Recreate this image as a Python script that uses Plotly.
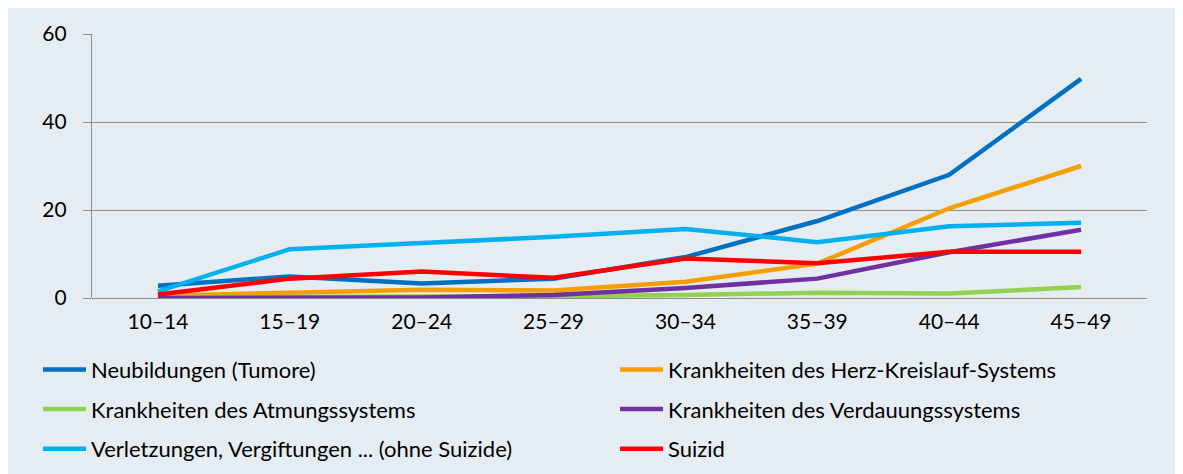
import plotly.graph_objects as go

categories = ["10–14", "15–19", "20–24", "25–29", "30–34", "35–39", "40–44", "45–49"]

neubildungen = [2.8, 4.9, 3.3, 4.4, 9.3, 17.5, 28.0, 49.8]
herz_kreislauf = [0.5, 1.3, 1.9, 1.7, 3.7, 7.8, 20.4, 30.0]
atmung = [0.2, 0.2, 0.2, 0.4, 0.7, 1.2, 1.0, 2.5]
verdauung = [0.0, 0.0, 0.1, 0.7, 2.3, 4.4, 10.4, 15.5]
verletzungen = [1.5, 11.1, 12.5, 13.9, 15.7, 12.7, 16.3, 17.1]
suizid = [0.8, 4.4, 6.0, 4.6, 9.0, 7.9, 10.5, 10.5]

series_names = [
    "Neubildungen (Tumore)",
    "Krankheiten des Herz-Kreislauf-Systems",
    "Krankheiten des Atmungssystems",
    "Krankheiten des Verdauungssystems",
    "Verletzungen, Vergiftungen ... (ohne Suizide)",
    "Suizid",
]
series_values = [neubildungen, herz_kreislauf, atmung, verdauung, verletzungen, suizid]
series_colors = ["#0070C0", "#F59E00", "#92D050", "#7030A0", "#00B0F0", "#FF0000"]
legend_ids = ["legend", "legend2", "legend", "legend2", "legend", "legend2"]

FONT = "Lato"
BG = "#E5EDF3"

fig = go.Figure()
for i, (name, vals, col, lg) in enumerate(zip(series_names, series_values, series_colors, legend_ids)):
    fig.add_trace(go.Scatter(
        x=categories, y=vals, name=name, mode="lines",
        line=dict(color=col, width=4.5),
        legend=lg, legendgroup=f"g{i}",
    ))

legend_common = dict(
    orientation="v", bgcolor="rgba(0,0,0,0)",
    font=dict(family=FONT, size=22, color="#000000"),
    traceorder="grouped", tracegroupgap=8,
    xanchor="left", yanchor="top", itemwidth=43,
)

fig.update_layout(
    width=1183, height=474,
    margin=dict(l=84, r=44, t=24, b=183),
    paper_bgcolor=BG,
    plot_bgcolor=BG,
    font=dict(family=FONT, size=21, color="#000000"),
    showlegend=True,
    legend=dict(x=-0.0512, y=-0.192, **legend_common),
    legend2=dict(x=0.4958, y=-0.192, **legend_common),
    xaxis=dict(
        type="category", showgrid=False, showline=False, ticks="",
        tickfont=dict(family=FONT, size=21, color="#000000"),
        range=[-0.5, 7.5], ticklabelstandoff=9,
    ),
    yaxis=dict(
        range=[0, 60], tickvals=[0, 20, 40, 60],
        showgrid=True, gridcolor="#8C8C8C", gridwidth=1.3,
        showline=True, linecolor="#8C8C8C", linewidth=1.3,
        ticks="outside", ticklen=8, tickcolor="#8C8C8C", tickwidth=1.3,
        tickfont=dict(family=FONT, size=21, color="#000000"),
        zeroline=True, zerolinecolor="#8C8C8C", zerolinewidth=1.3,
        ticklabelstandoff=12,
    ),
)

fig.write_html("out.html")
